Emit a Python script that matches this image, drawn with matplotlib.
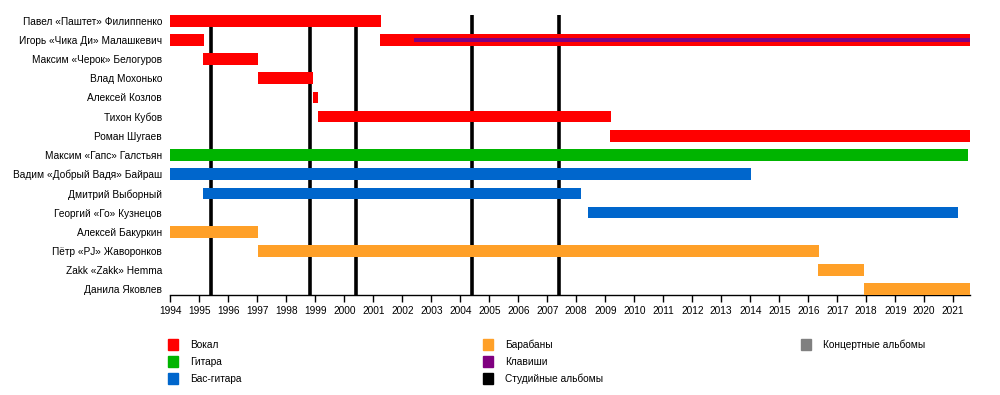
import matplotlib
matplotlib.use('Agg')
import matplotlib.pyplot as plt
from matplotlib.patches import Rectangle

plt.rcParams['font.family'] = ['Liberation Sans', 'DejaVu Sans']

members = ['Павел «Паштет» Филиппенко', 'Игорь «Чика Ди» Малашкевич',
           'Максим «Черок» Белогуров', 'Влад Мохонько', 'Алексей Козлов',
           'Тихон Кубов', 'Роман Шугаев', 'Максим «Гапс» Галстьян',
           'Вадим «Добрый Вадя» Байраш', 'Дмитрий Выборный',
           'Георгий «Го» Кузнецов', 'Алексей Бакуркин',
           'Пётр «PJ» Жаворонков', 'Zakk «Zakk» Hemma', 'Данила Яковлев']

END = 2021.58  # right edge of the timeline

# (row index, start, end) per role
vocals = [(0, 1994.0, 2001.27), (1, 1994.0, 1995.15), (1, 2001.24, END),
          (2, 1995.13, 1997.01), (3, 1997.01, 1998.91), (4, 1998.91, 1999.08),
          (5, 1999.08, 2009.19), (6, 2009.18, END)]
guitar = [(7, 1994.0, 2021.5)]
bass = [(8, 1994.0, 2014.01), (9, 1995.13, 2008.18), (10, 2008.4, 2021.15)]
drums = [(11, 1994.0, 1997.01), (12, 1997.01, 2016.36), (13, 2016.35, 2017.94),
         (14, 2017.93, END)]
keys = [(1, 2002.41, END)]

studio_albums = [1995.41, 1998.83, 2000.41, 2004.41, 2007.41]
years = list(range(1994, 2022))

colors = {'vocals': '#ff0000', 'guitar': '#00b400', 'bass': '#0066cc',
          'drums': '#ffa028', 'keys': '#800080', 'studio': '#000000',
          'live': '#808080'}

fig = plt.figure(figsize=(10, 3.95), dpi=100)
ax = fig.add_axes([0.1703, 0.2532, 0.7997, 0.7088])

def draw(segs, color, h=0.61):
  for row, a, b in segs:
    ax.barh(row, b - a, left=a, height=h, color=color, zorder=3)

draw(vocals, colors['vocals'])
draw(guitar, colors['guitar'])
draw(bass, colors['bass'])
draw(drums, colors['drums'])
draw(keys, colors['keys'], h=0.21)

for x in studio_albums:
  ax.axvline(x, color=colors['studio'], lw=2.6, zorder=2)

ax.set_xlim(1994, END)
ax.set_ylim(14.3, -0.3)
ax.set_yticks(range(len(members)))
ax.set_yticklabels(members, fontsize=7.3)
ax.tick_params(axis='y', length=0, pad=6)
ax.set_xticks(years)
ax.set_xticklabels([str(y) for y in years], fontsize=7.3)
ax.tick_params(axis='x', length=5, width=1, pad=3)
for s in ('top', 'right', 'left'):
  ax.spines[s].set_visible(False)
ax.spines['bottom'].set_linewidth(1)

# legend, placed by hand in pixel terms
legend = [('Вокал', colors['vocals'], 168, 339), ('Гитара', colors['guitar'], 168, 356),
          ('Бас-гитара', colors['bass'], 168, 373), ('Барабаны', colors['drums'], 483, 339),
          ('Клавиши', colors['keys'], 483, 356), ('Студийные альбомы', colors['studio'], 483, 373),
          ('Концертные альбомы', colors['live'], 801, 339)]
W, H = 1000, 395
for label, c, px, py in legend:
  fig.patches.append(Rectangle((px / W, 1 - (py + 11) / H), 10 / W, 11 / H,
                               transform=fig.transFigure, color=c))
  fig.text((px + 22) / W, 1 - (py + 6) / H, label, fontsize=7.3, va='center')

fig.savefig('out.png', dpi=100)
